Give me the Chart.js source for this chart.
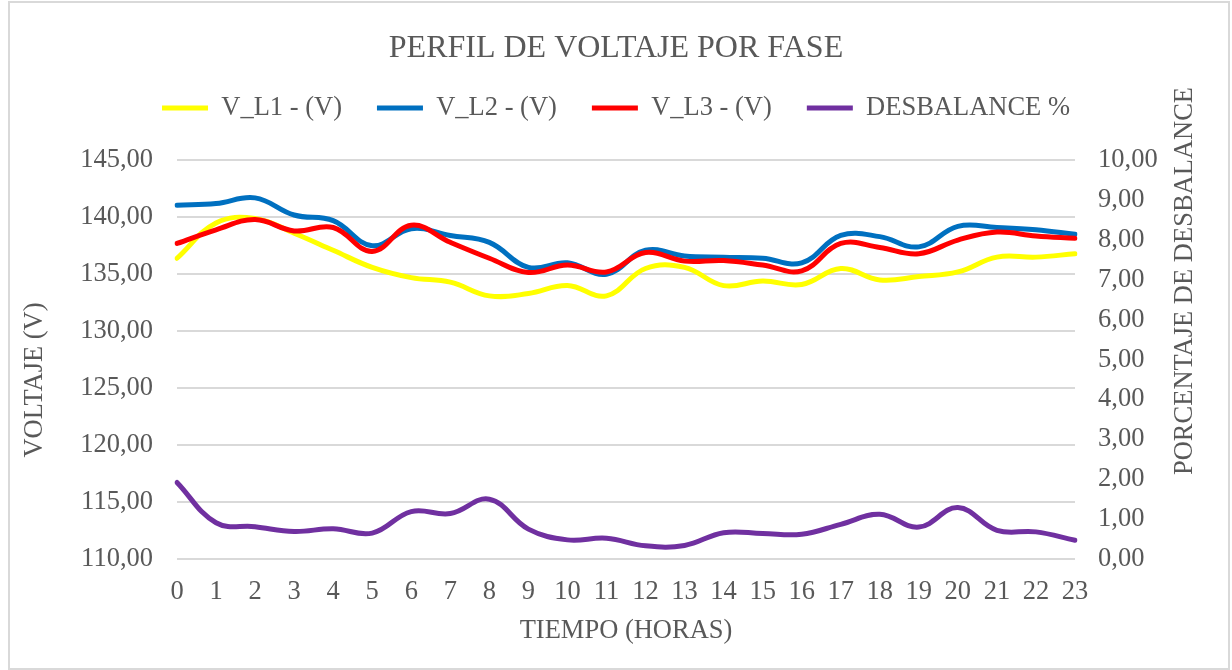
<!DOCTYPE html>
<html>
<head>
<meta charset="utf-8">
<script src="https://cdn.jsdelivr.net/npm/chart.js@4"></script>
<style>
  html, body { margin: 0; padding: 0; background: #fff; }
  #wrap { position: relative; width: 1232px; height: 670px; }
  #frame {
    position: absolute; left: 8px; top: 1px; width: 1218px; height: 665px;
    border: 2px solid #d9d9d9; pointer-events: none;
  }
  canvas { position: absolute; left: 0; top: 0; }
</style>
</head>
<body>
<div id="wrap">
  <canvas id="perfil" width="1232" height="670"></canvas>
  <div id="frame"></div>
</div>
<script>
const horas = ["0","1","2","3","4","5","6","7","8","9","10","11","12","13","14","15","16","17","18","19","20","21","22","23"];

const vL1 = [136.4, 139.5, 139.9, 138.6, 137.1, 135.6, 134.7, 134.3, 133.1, 133.3, 134.0, 133.1,
             135.5, 135.6, 134.0, 134.4, 134.1, 135.5, 134.5, 134.8, 135.2, 136.5, 136.5, 136.8];
const vL2 = [141.05, 141.2, 141.7, 140.2, 139.7, 137.5, 139.0, 138.4, 137.8, 135.6, 136.0, 135.0,
             137.1, 136.6, 136.5, 136.4, 136.0, 138.4, 138.3, 137.4, 139.2, 139.1, 138.9, 138.5];
const vL3 = [137.7, 138.9, 139.8, 138.8, 139.1, 137.0, 139.3, 137.8, 136.4, 135.15, 135.8, 135.2,
             136.9, 136.15, 136.2, 135.8, 135.3, 137.7, 137.35, 136.8, 138.0, 138.7, 138.35, 138.15];
const desbalance = [1.92, 0.91, 0.81, 0.69, 0.76, 0.65, 1.19, 1.14, 1.50, 0.75, 0.48, 0.52,
                    0.33, 0.34, 0.66, 0.64, 0.62, 0.87, 1.12, 0.80, 1.29, 0.72, 0.68, 0.47];

const gris = "#595959";
const fuente = "'Liberation Serif', 'Times New Roman', serif";
const coma = v => Number(v).toFixed(2).replace(".", ",");

function serie(label, data, color, eje, orden) {
  return {
    label, data, xAxisID: "x", yAxisID: eje, order: orden,
    borderColor: color, backgroundColor: color,
    borderWidth: 5, pointRadius: 0, tension: 0.4,
    borderCapStyle: "round", borderJoinStyle: "round", fill: false
  };
}

// titulos verticales (ambos se leen de abajo hacia arriba, como en Excel)
const titulosEjes = {
  id: "titulosEjes",
  afterDraw(chart) {
    const ctx = chart.ctx;
    ctx.save();
    ctx.fillStyle = gris;
    ctx.font = "26.5px " + fuente;
    ctx.textAlign = "center";
    ctx.textBaseline = "middle";
    [[35, 380, "VOLTAJE (V)"], [1185, 281, "PORCENTAJE DE DESBALANCE"]].forEach(([x, y, t]) => {
      ctx.save();
      ctx.translate(x, y);
      ctx.rotate(-Math.PI / 2);
      ctx.fillText(t, 0, 0);
      ctx.restore();
    });
    ctx.restore();
  }
};

new Chart(document.getElementById("perfil"), {
  type: "line",
  data: {
    labels: horas,
    datasets: [
      serie("V_L1 - (V)", vL1, "#ffff00", "y", 4),
      serie("V_L2 - (V)", vL2, "#0070c0", "y", 3),
      serie("V_L3 - (V)", vL3, "#ff0000", "y", 2),
      serie("DESBALANCE %", desbalance, "#7030a0", "y1", 1)
    ]
  },
  plugins: [titulosEjes],
  options: {
    responsive: false,
    animation: false,
    layout: { padding: 0 },
    plugins: {
      tooltip: { enabled: false },
      title: {
        display: true,
        text: "PERFIL DE VOLTAJE POR FASE",
        color: gris,
        font: { family: fuente, size: 32, weight: "normal" },
        padding: { top: 29, bottom: -7.6 }
      },
      legend: {
        position: "top",
        labels: {
          color: gris,
          font: { family: fuente, size: 26.5 },
          usePointStyle: true,
          pointStyle: "line",
          pointStyleWidth: 46,
          padding: 35,
          sort: (a, b) => a.datasetIndex - b.datasetIndex
        }
      }
    },
    scales: {
      x: {
        offset: false,
        grid: { display: false },
        border: { display: false },
        ticks: { color: gris, font: { family: fuente, size: 26.5 }, padding: 9, maxRotation: 0, autoSkip: false },
        title: {
          display: true, text: "TIEMPO (HORAS)", color: gris,
          font: { family: fuente, size: 26.5 }, padding: { top: 4, bottom: 23 }
        },
        afterFit: s => { s.height = 111; }
      },
      xTop: {
        type: "category",
        position: "top",
        grid: { display: false },
        border: { display: false },
        ticks: { display: false },
        afterFit: s => { s.height = 29; }
      },
      y: {
        position: "left",
        min: 110, max: 145,
        grid: { color: "#d9d9d9", lineWidth: 2, drawTicks: false },
        border: { display: false },
        ticks: { stepSize: 5, color: gris, font: { family: fuente, size: 26.5 }, padding: 24, callback: coma },
        afterFit: s => { s.width = 177; }
      },
      y1: {
        position: "right",
        min: 0, max: 10,
        grid: { display: false, drawTicks: false },
        border: { display: false },
        ticks: { stepSize: 1, color: gris, font: { family: fuente, size: 26.5 }, padding: 23, callback: coma },
        afterFit: s => { s.width = 157; }
      }
    }
  }
});
</script>
</body>
</html>
